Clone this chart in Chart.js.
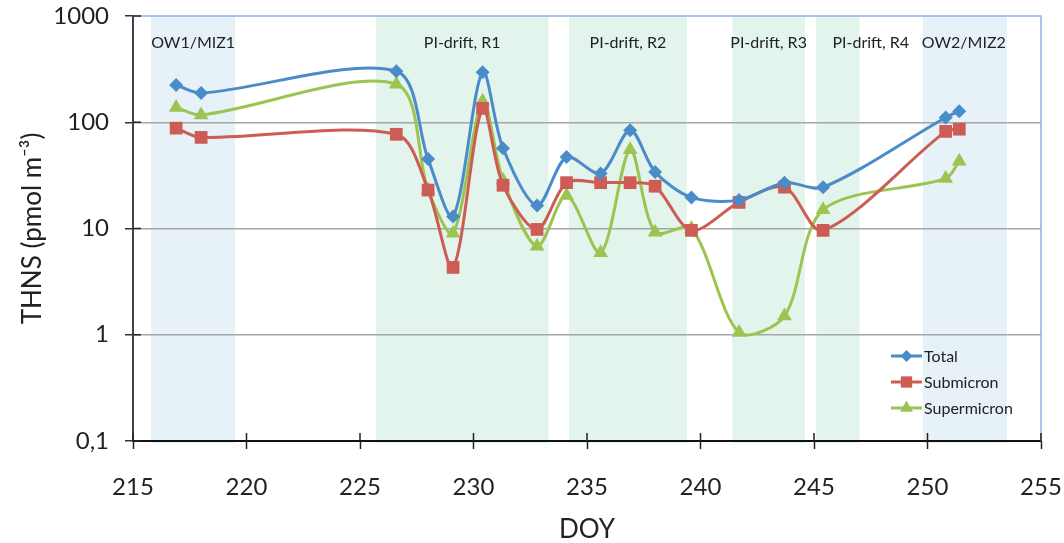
<!DOCTYPE html>
<html>
<head>
<meta charset="utf-8">
<script src="https://cdn.jsdelivr.net/npm/chart.js@4/dist/chart.umd.min.js"></script>
<style>
  html, body { margin: 0; padding: 0; background: #fff; overflow: hidden; }
  canvas { display: block; }
</style>
</head>
<body>
<canvas id="chart" width="1064" height="543"></canvas>
<script>
// sampling days (DOY) shared by all three series
const doy = [216.9, 218.0, 226.6, 228.0, 229.1, 230.4, 231.3, 232.8, 234.1, 235.6, 236.9, 238.0, 239.6, 241.7, 243.7, 245.4, 250.8, 251.4]
const total = [224, 188, 302, 45, 13, 296, 57, 16.5, 47, 33, 84, 34, 19.6, 18.5, 27, 24.4, 111, 127]
const submicron = [88, 72, 77, 23, 4.3, 135, 25.5, 9.8, 27, 27, 27, 25, 9.6, 17.6, 24.5, 9.6, 82, 86]
const supermicron = [138, 117, 228, 23, 9.0, 158, 28.5, 6.8, 20.5, 5.9, 55, 9.2, 10, 1.05, 1.5, 15, 29.6, 43]

// cruise periods (shaded bands)
const periodStart = [215.8, 225.7, 234.2, 241.4, 245.1, 249.8]
const periodEnd = [219.5, 233.3, 239.4, 244.6, 247.0, 253.5]
const periodLabels = ['OW1/MIZ1', 'PI-drift, R1', 'PI-drift, R2', 'PI-drift, R3', 'PI-drift, R4', 'OW2/MIZ2']
const periodLabelDoy = [217.65, 229.5, 236.8, 243.0, 247.5, 251.6]
const periodType = ['ow', 'pi', 'pi', 'pi', 'pi', 'ow']

const yTicks = [0.1, 1, 10, 100, 1000]

const FONT = 'Lato, "Open Sans", sans-serif'
const bandColors = { ow: 'rgb(230,241,248)', pi: 'rgb(227,244,236)' }

function points(values) {
  return doy.map(function(d, i) {
    return { x: d, y: values[i] }
  })
}

function series(label, values, color, style, radius) {
  return {
    label: label,
    data: points(values),
    borderColor: color,
    backgroundColor: color,
    borderWidth: 3,
    pointStyle: style,
    pointRadius: radius,
    pointHoverRadius: radius,
    pointBorderWidth: 0,
    pointBackgroundColor: color,
    tension: 0.3
  }
}

const bandsPlugin = {
  id: 'bands',
  beforeDraw(chart) {
    const ctx = chart.ctx
    const x = chart.scales.x
    const area = chart.chartArea
    ctx.save()
    periodStart.forEach(function(s, i) {
      const x0 = x.getPixelForValue(s)
      const x1 = x.getPixelForValue(periodEnd[i])
      ctx.fillStyle = bandColors[periodType[i]]
      ctx.fillRect(x0, area.top, x1 - x0, area.bottom - area.top + 2)
    })
    ctx.restore()
  },
  afterDraw(chart) {
    const ctx = chart.ctx
    const x = chart.scales.x
    const y = chart.scales.y
    const area = chart.chartArea
    ctx.save()
    // period labels
    ctx.font = '16px ' + FONT
    ctx.fillStyle = '#222'
    ctx.textAlign = 'center'
    ctx.textBaseline = 'middle'
    periodLabels.forEach(function(t, i) {
      ctx.fillText(t, x.getPixelForValue(periodLabelDoy[i]), area.top + 27)
    })
    // plot border top/right
    ctx.strokeStyle = '#8db3e2'
    ctx.lineWidth = 1.5
    ctx.beginPath()
    ctx.moveTo(area.left, area.top)
    ctx.lineTo(area.right, area.top)
    ctx.lineTo(area.right, area.bottom)
    ctx.stroke()
    // inner half of the cross tick marks
    ctx.strokeStyle = '#222'
    ctx.lineWidth = 1.5
    ctx.beginPath()
    x.ticks.forEach(function(t) {
      const px = x.getPixelForValue(t.value)
      ctx.moveTo(px, area.bottom)
      ctx.lineTo(px, area.bottom - 8)
    })
    yTicks.forEach(function(v) {
      const py = y.getPixelForValue(v)
      ctx.moveTo(area.left, py)
      ctx.lineTo(area.left + 8, py)
    })
    ctx.stroke()
    // legend
    const lx = area.right - 150
    let ly = area.top + 340
    ctx.textAlign = 'left'
    ctx.font = '16px ' + FONT
    chart.data.datasets.forEach(function(ds) {
      ctx.strokeStyle = ds.borderColor
      ctx.lineWidth = 3
      ctx.beginPath()
      ctx.moveTo(lx, ly)
      ctx.lineTo(lx + 31, ly)
      ctx.stroke()
      ctx.fillStyle = ds.borderColor
      Chart.helpers.drawPoint(ctx, { pointStyle: ds.pointStyle, radius: ds.pointRadius - 1, borderWidth: 0 }, lx + 15.5, ly)
      ctx.fillStyle = '#222'
      ctx.fillText(ds.label, lx + 33, ly + 1)
      ly += 26
    })
    ctx.restore()
  }
}

new Chart(document.getElementById('chart'), {
  type: 'line',
  data: {
    datasets: [
      series('Total', total, 'rgb(74,139,201)', 'rectRot', 7),
      series('Submicron', submicron, 'rgb(205,92,85)', 'rect', 9),
      series('Supermicron', supermicron, 'rgb(155,196,80)', 'triangle', 8.5)
    ]
  },
  options: {
    responsive: false,
    animation: false,
    devicePixelRatio: 1,
    layout: { padding: { left: 0, right: 23, top: 16, bottom: 0 } },
    plugins: { legend: { display: false }, tooltip: { enabled: false } },
    scales: {
      x: {
        type: 'linear',
        min: 215,
        max: 255,
        ticks: { stepSize: 5, font: { family: FONT, size: 24 }, color: '#222', padding: 24, maxRotation: 0 },
        grid: { drawOnChartArea: false, tickLength: 8, tickColor: '#222', tickWidth: 1.5 },
        border: { color: '#111', width: 2 },
        title: { display: true, text: 'DOY', font: { family: FONT, size: 26, lineHeight: 1 }, color: '#222', padding: { top: 0, bottom: 0 } },
        afterFit(scale) {
          scale.height = 102
          scale.paddingLeft = 0
          scale.paddingRight = 0
        }
      },
      y: {
        type: 'logarithmic',
        min: 0.1,
        max: 1000,
        afterBuildTicks(scale) {
          scale.ticks = yTicks.map(function(v) { return { value: v } })
        },
        ticks: {
          font: { family: FONT, size: 24 },
          color: '#222',
          padding: 16,
          callback(v) { return String(v).replace('.', ',') }
        },
        grid: {
          color(c) {
            const v = c.tick && c.tick.value
            return (v === 1 || v === 10 || v === 100) ? '#a6a6a6' : 'rgba(0,0,0,0)'
          },
          lineWidth: 1.5,
          tickLength: 8,
          tickColor: '#333',
          tickWidth: 1.5
        },
        border: { color: '#3a4350', width: 2 },
        title: { display: true, text: 'THNS (pmol m⁻³)', font: { family: FONT, size: 26 }, color: '#222', padding: { top: 17, bottom: 0 } },
        afterFit(scale) {
          scale.width = 133
          scale.paddingTop = 0
          scale.paddingBottom = 0
        }
      }
    }
  },
  plugins: [bandsPlugin]
})
</script>
</body>
</html>
